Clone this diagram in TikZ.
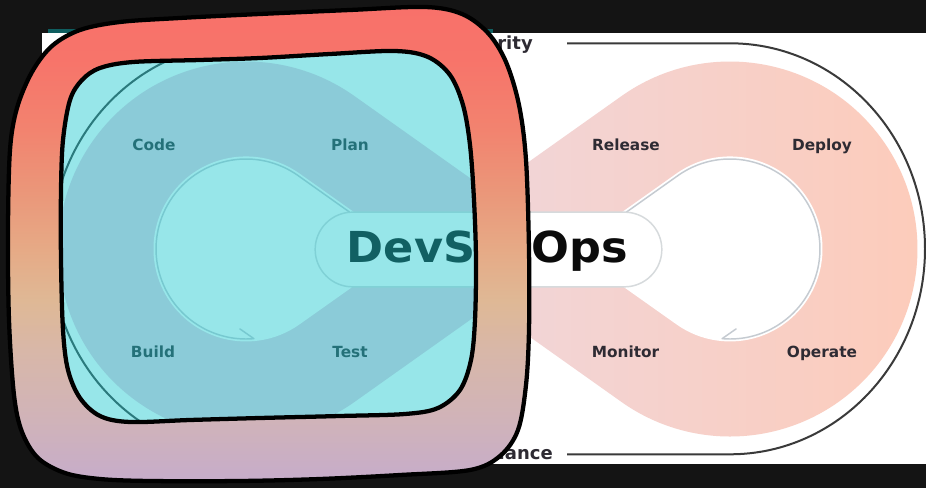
\documentclass[tikz,border=0pt]{standalone}
\usepackage{fontspec}
\setmainfont{DejaVu Sans}

\definecolor{backdrop}{HTML}{141414}
\definecolor{tealstrip}{HTML}{0F5E60}
\definecolor{linegray}{HTML}{3A3A3A}
\definecolor{inkgray}{HTML}{2E2B33}
\definecolor{holegray}{HTML}{C5CBD1}
\definecolor{pillgray}{HTML}{D6DADC}
\definecolor{opsblack}{HTML}{0B0B0B}
\definecolor{devband}{HTML}{EACFE0}
\definecolor{opsbandL}{HTML}{F0D6DA}
\definecolor{opsbandR}{HTML}{FDCBB9}
\definecolor{veil}{HTML}{19C8CF}
% frame gradient, bottom to top
\definecolor{ringA}{HTML}{C6ACCA}
\definecolor{ringB}{HTML}{D0B3B9}
\definecolor{ringC}{HTML}{D8B7A8}
\definecolor{ringD}{HTML}{DFB895}
\definecolor{ringE}{HTML}{E6AA86}
\definecolor{ringF}{HTML}{EB9679}
\definecolor{ringG}{HTML}{F2836F}
\definecolor{ringH}{HTML}{F7746A}
\definecolor{ringI}{HTML}{F8716A}

\pgfdeclareverticalshading{ringshade}{100bp}{%
  color(0bp)=(ringA); color(25bp)=(ringA); color(31.4bp)=(ringB);
  color(38.8bp)=(ringC); color(44.1bp)=(ringD); color(49.4bp)=(ringE);
  color(55.7bp)=(ringF); color(62bp)=(ringG); color(69.4bp)=(ringH);
  color(75bp)=(ringI); color(100bp)=(ringI)}

\begin{document}
\begin{tikzpicture}[x=0.75pt,y=-0.75pt,
  stagetext/.style={font=\fontsize{11.5}{13}\selectfont\bfseries, text=inkgray, inner sep=0pt},
  looptext/.style={font=\fontsize{13.5}{16}\selectfont\bfseries, text=inkgray, inner sep=0pt},
  loopline/.style={draw=linegray, line width=1.5pt},
  holeline/.style={draw=holegray, line width=1.1pt, line cap=round, line join=round},
  ringline/.style={draw=black, line width=3.2pt, line join=round},
]
\useasboundingbox (0,0) rectangle (926,488);
\fill[backdrop] (0,0) rectangle (926,488);

% page panel
\fill[tealstrip] (48,29) rectangle (493,33);
\fill[white] (42,33) rectangle (926,464);

% outer security / compliance loop line
\draw[loopline] (567,43.3) -- (730,43.3)
  arc[start angle=-90, end angle=90, x radius=195, y radius=205.5] -- (567,454.3);
\draw[loopline] (409,43.3) -- (246,43.3)
  arc[start angle=-90, end angle=-270, x radius=195, y radius=205.5] -- (409,454.3);
\node[looptext, anchor=base east] (security) at (533,49.3) {Security};
\node[looptext, anchor=base east] (compliance) at (553,459.5) {Compliance};

% Ops loop (right)
\path[left color=opsbandL, right color=opsbandR]
  (460.5,210.3) -- (621.5,96.1)
  arc[start angle=-125.35, end angle=125.35, radius=187.5]
  -- (460.5,287.7) -- (488,249) -- cycle;
\fill[white] (570,249) -- (676.5,173.5)
  arc[start angle=-125.35, end angle=125.35, radius=92.5] -- cycle;

% Dev loop (left)
\fill[devband]
  (515.5,210.3) -- (354.5,96.1)
  arc[start angle=-54.65, end angle=-305.35, radius=187.5]
  -- (515.5,287.7) -- (488,249) -- cycle;
\fill[white] (406,249) -- (299.5,173.5)
  arc[start angle=-54.65, end angle=-305.35, radius=92.5] -- cycle;

% circular arrows inside the loops
\draw[holeline] (626.6,212) -- (677.9,175.6)
  arc[start angle=-125.35, end angle=95, radius=90] -- (736.1,328.9);
\draw[holeline] (349.4,212) -- (298.1,175.6)
  arc[start angle=-54.65, end angle=-275, radius=90] -- (239.9,328.9);

% centre pill
\node[draw=pillgray, line width=1.1pt, fill=white, rounded corners=28pt,
  minimum width=260pt, minimum height=56pt, inner sep=0pt] (pill) at (488.5,249.5) {};
\node[font=\fontsize{32}{36}\selectfont\bfseries, text=opsblack, inner sep=0pt,
  anchor=base] (title) at (487.5,263) {\scalebox{1.045}[1]{DevSecOps}};

% stage labels
\node[stagetext, anchor=base] (code)    at (154,150.5) {Code};
\node[stagetext, anchor=base] (plan)    at (350,150.5) {Plan};
\node[stagetext, anchor=base] (build)   at (153,358) {Build};
\node[stagetext, anchor=base] (test)    at (350,358) {Test};
\node[stagetext, anchor=base] (release) at (626,150.5) {Release};
\node[stagetext, anchor=base] (deploy)  at (822,150.5) {Deploy};
\node[stagetext, anchor=base] (monitor) at (625.5,358) {Monitor};
\node[stagetext, anchor=base] (operate) at (822,358) {Operate};

% tinted window inside the frame
\fill[veil, fill opacity=0.45] plot[smooth cycle, tension=0.55] coordinates {
  (100,68) (133,62) (200,60) (260,58) (330,54) (395,51) (428,57) (450,75)
  (463,105) (470,145) (474,200) (476,260) (475,320) (471,360) (460,390)
  (438,408) (405,414) (340,416) (260,418) (190,420) (130,422) (100,416)
  (80,398) (68,370) (63,330) (61,260) (61,190) (63,140) (70,100) (82,80)};

% hand-drawn frame
\path[even odd rule, shading=ringshade, save path=\ringpath]
  plot[smooth cycle, tension=0.55] coordinates {
  (80,30) (120,22) (180,18) (260,14) (350,10) (425,7) (462,14) (488,33)
  (506,62) (519,105) (526,160) (529,250) (529,330) (526,385) (518,430)
  (500,456) (470,470) (400,475) (320,479) (240,481) (150,481) (100,479)
  (65,473) (38,458) (22,432) (14,395) (9,320) (8,230) (10,150) (17,108)
  (32,72) (52,46)}
  plot[smooth cycle, tension=0.55] coordinates {
  (100,68) (133,62) (200,60) (260,58) (330,54) (395,51) (428,57) (450,75)
  (463,105) (470,145) (474,200) (476,260) (475,320) (471,360) (460,390)
  (438,408) (405,414) (340,416) (260,418) (190,420) (130,422) (100,416)
  (80,398) (68,370) (63,330) (61,260) (61,190) (63,140) (70,100) (82,80)};
\path[ringline, use path=\ringpath];
\end{tikzpicture}
\end{document}
